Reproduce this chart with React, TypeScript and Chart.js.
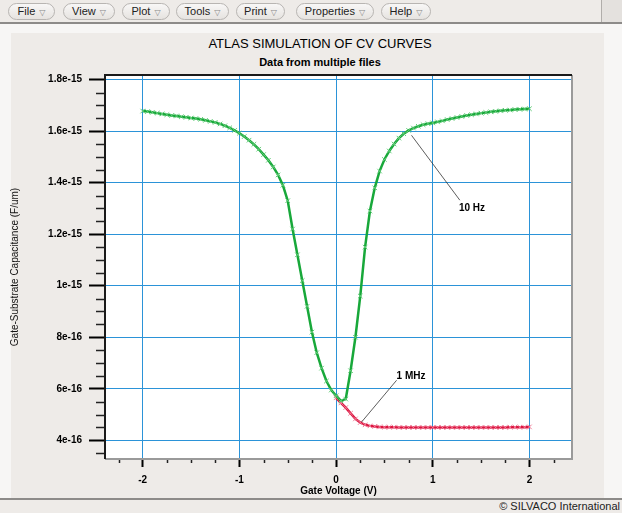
import React, { useEffect, useRef } from "react";
import { Chart, registerables } from "chart.js";

Chart.register(...registerables);

// ---------- data ----------
const chartTitle = "ATLAS SIMULATION OF CV CURVES";
const chartSubtitle = "Data from multiple files";
const xAxisTitle = "Gate Voltage (V)";
const yAxisTitle = "Gate-Substrate Capacitance (F/um)";
const menuItems = ["File", "View", "Plot", "Tools", "Print", "Properties", "Help"];
const copyright = "\u00a9 SILVACO International";

const xTickValues = [-2, -1, 0, 1, 2];
const yTickValues = [4e-16, 6e-16, 8e-16, 1e-15, 1.2e-15, 1.4e-15, 1.6e-15, 1.8e-15];
const yTickLabels = ["4e-16", "6e-16", "8e-16", "1e-15", "1.2e-15", "1.4e-15", "1.6e-15", "1.8e-15"];
const xMinorTicks = [-2.25, -1.75, -1.5, -1.25, -0.75, -0.5, -0.25, 0.25, 0.5, 0.75, 1.25, 1.5, 1.75, 2.25];
const yMinorTicks = [3.5e-16, 4.5e-16, 5e-16, 5.5e-16, 6.5e-16, 7e-16, 7.5e-16, 8.5e-16, 9e-16, 9.5e-16,
  1.05e-15, 1.1e-15, 1.15e-15, 1.25e-15, 1.3e-15, 1.35e-15, 1.45e-15, 1.5e-15, 1.55e-15, 1.65e-15, 1.7e-15, 1.75e-15];

// 10 Hz curve
const vg10Hz = [
  -2.0, -1.95, -1.9, -1.85, -1.8, -1.75, -1.7, -1.65, -1.6, -1.55,
  -1.5, -1.45, -1.4, -1.35, -1.3, -1.25, -1.2, -1.15, -1.1, -1.05,
  -1.0, -0.95, -0.9, -0.85, -0.8, -0.75, -0.7, -0.65, -0.6, -0.55,
  -0.5, -0.45, -0.4, -0.35, -0.3, -0.25, -0.2, -0.15, -0.1, -0.05,
  0.0, 0.05, 0.1, 0.15, 0.2, 0.25, 0.3, 0.35, 0.4, 0.45,
  0.5, 0.55, 0.6, 0.65, 0.7, 0.75, 0.8, 0.85, 0.9, 0.95,
  1.0, 1.05, 1.1, 1.15, 1.2, 1.25, 1.3, 1.35, 1.4, 1.45,
  1.5, 1.55, 1.6, 1.65, 1.7, 1.75, 1.8, 1.85, 1.9, 1.95, 2.0,
];
const cap10Hz = [
  1.678e-15, 1.676e-15, 1.673e-15, 1.670e-15, 1.667e-15, 1.664e-15, 1.661e-15, 1.659e-15, 1.656e-15, 1.654e-15,
  1.651e-15, 1.649e-15, 1.646e-15, 1.642e-15, 1.638e-15, 1.634e-15, 1.628e-15, 1.621e-15, 1.613e-15, 1.603e-15,
  1.592e-15, 1.579e-15, 1.565e-15, 1.549e-15, 1.530e-15, 1.509e-15, 1.487e-15, 1.461e-15, 1.430e-15, 1.390e-15,
  1.330e-15, 1.220e-15, 1.120e-15, 1.020e-15, 0.920e-15, 0.820e-15, 0.740e-15, 0.680e-15, 0.630e-15, 0.595e-15,
  0.573e-15, 0.553e-15, 0.560e-15, 0.670e-15, 0.800e-15, 0.960e-15, 1.150e-15, 1.290e-15, 1.380e-15, 1.445e-15,
  1.490e-15, 1.523e-15, 1.550e-15, 1.573e-15, 1.590e-15, 1.603e-15, 1.612e-15, 1.619e-15, 1.625e-15, 1.629e-15,
  1.632e-15, 1.636e-15, 1.640e-15, 1.645e-15, 1.649e-15, 1.653e-15, 1.657e-15, 1.661e-15, 1.664e-15, 1.667e-15,
  1.670e-15, 1.672e-15, 1.675e-15, 1.677e-15, 1.679e-15, 1.681e-15, 1.682e-15, 1.684e-15, 1.685e-15, 1.686e-15, 1.687e-15,
];

// 1 MHz curve
const vg1MHz = [
  0.0, 0.05, 0.1, 0.15, 0.2, 0.25, 0.3, 0.35, 0.4, 0.45,
  0.5, 0.55, 0.6, 0.65, 0.7, 0.75, 0.8, 0.85, 0.9, 0.95,
  1.0, 1.05, 1.1, 1.15, 1.2, 1.25, 1.3, 1.35, 1.4, 1.45,
  1.5, 1.55, 1.6, 1.65, 1.7, 1.75, 1.8, 1.85, 1.9, 1.95, 2.0,
];
const cap1MHz = [
  0.565e-15, 0.545e-15, 0.527e-15, 0.505e-15, 0.483e-15, 0.469e-15, 0.460e-15, 0.456e-15, 0.454e-15, 0.452e-15,
  0.451e-15, 0.451e-15, 0.451e-15, 0.450e-15, 0.450e-15, 0.450e-15, 0.450e-15, 0.450e-15, 0.450e-15, 0.450e-15,
  0.450e-15, 0.450e-15, 0.450e-15, 0.450e-15, 0.450e-15, 0.450e-15, 0.450e-15, 0.450e-15, 0.450e-15, 0.450e-15,
  0.450e-15, 0.450e-15, 0.450e-15, 0.450e-15, 0.450e-15, 0.450e-15, 0.451e-15, 0.451e-15, 0.451e-15, 0.451e-15, 0.452e-15,
];

// annotations: label, point on curve, end of leader, text anchor
const annotationLabels = ["10 Hz", "1 MHz"];
const annotationFrom = [[0.78, 1.584e-15], [0.264, 0.471e-15]];
const annotationTo = [[1.28, 1.332e-15], [0.626, 0.633e-15]];
const annotationText = [[1.27, 1.300e-15], [0.626, 0.648e-15]];

const FONT = '"Liberation Sans", Arial, Helvetica, sans-serif';
const GRID = "#2b93d8";

const chromePlugin = {
  id: "chrome",
  beforeDraw(chart: any) {
    const { ctx, chartArea: a } = chart;
    ctx.save();
    ctx.fillStyle = "#ffffff";
    ctx.fillRect(a.left, a.top, a.right - a.left, a.bottom - a.top);
    ctx.restore();
  },
  afterDraw(chart: any) {
    const { ctx, chartArea: a, scales } = chart;
    const xs = scales.x;
    const ys = scales.y;
    ctx.save();
    // minor ticks
    ctx.strokeStyle = "#222";
    ctx.lineWidth = 1.5;
    ctx.beginPath();
    yMinorTicks.forEach((v) => {
      const y = Math.round(ys.getPixelForValue(v)) + 0.5;
      ctx.moveTo(a.left - 9, y);
      ctx.lineTo(a.left, y);
    });
    ctx.stroke();
    ctx.beginPath();
    xMinorTicks.forEach((v) => {
      const x = Math.round(xs.getPixelForValue(v)) + 0.5;
      ctx.moveTo(x, a.bottom);
      ctx.lineTo(x, a.bottom + 4);
    });
    ctx.stroke();
    // frame: dark top/left, grey right/bottom
    ctx.lineWidth = 2;
    ctx.strokeStyle = "#9a9a9a";
    ctx.beginPath();
    ctx.moveTo(a.right, a.top);
    ctx.lineTo(a.right, a.bottom);
    ctx.lineTo(a.left, a.bottom);
    ctx.stroke();
    ctx.strokeStyle = "#1a1a1a";
    ctx.beginPath();
    ctx.moveTo(a.left, a.bottom);
    ctx.lineTo(a.left, a.top);
    ctx.lineTo(a.right, a.top);
    ctx.stroke();
    // annotations
    ctx.lineWidth = 0.8;
    ctx.strokeStyle = "#333";
    ctx.fillStyle = "#000";
    ctx.font = `bold 10px ${FONT}`;
    ctx.textBaseline = "middle";
    ctx.textAlign = "left";
    annotationLabels.forEach((label, i) => {
      ctx.beginPath();
      ctx.moveTo(xs.getPixelForValue(annotationFrom[i][0]), ys.getPixelForValue(annotationFrom[i][1]));
      ctx.lineTo(xs.getPixelForValue(annotationTo[i][0]), ys.getPixelForValue(annotationTo[i][1]));
      ctx.stroke();
      ctx.fillText(label, xs.getPixelForValue(annotationText[i][0]), ys.getPixelForValue(annotationText[i][1]));
    });
    ctx.restore();
  },
};

function ChartCanvas() {
  const ref = useRef<HTMLCanvasElement | null>(null);
  useEffect(() => {
    if (!ref.current) return;
    const chart = new Chart(ref.current, {
      type: "scatter",
      data: {
        datasets: [
          {
            label: "10 Hz",
            data: vg10Hz.map((v, i) => ({ x: v, y: cap10Hz[i] })),
            showLine: true,
            borderColor: "#18a83a",
            borderWidth: 2.5,
            pointStyle: "crossRot",
            pointRadius: 3.2,
            pointBorderColor: "#62cc78",
            pointBorderWidth: 1,
            pointBackgroundColor: "#62cc78",
            tension: 0,
          },
          {
            label: "1 MHz",
            data: vg1MHz.map((v, i) => ({ x: v, y: cap1MHz[i] })),
            showLine: true,
            borderColor: "#dc1540",
            borderWidth: 2.5,
            pointStyle: "crossRot",
            pointRadius: 3.2,
            pointBorderColor: "#f07e98",
            pointBorderWidth: 1,
            pointBackgroundColor: "#f07e98",
            tension: 0,
          },
        ],
      },
      options: {
        animation: false,
        responsive: false,
        events: [],
        layout: { padding: { top: 75, right: 50, bottom: 0, left: 0 } },
        plugins: { legend: { display: false }, tooltip: { enabled: false } },
        scales: {
          x: {
            type: "linear",
            min: -2.39,
            max: 2.44,
            afterBuildTicks: (s: any) => {
              s.ticks = xTickValues.map((v) => ({ value: v }));
            },
            afterFit: (s: any) => {
              s.height = 54;
            },
            border: { display: false },
            grid: { color: GRID, lineWidth: 1, tickLength: 8, tickColor: "#000", tickWidth: 2 },
            ticks: {
              color: "#000",
              font: { family: FONT, size: 10, weight: "bold" },
              padding: 7,
              maxRotation: 0,
              autoSkip: false,
              callback: (v: any) => String(v),
            },
            title: {
              display: true,
              text: xAxisTitle,
              color: "#000",
              font: { family: FONT, size: 10, weight: "bold" },
              padding: { top: 0, bottom: 16 },
            },
          },
          y: {
            type: "linear",
            min: 3.274e-16,
            max: 1.818e-15,
            afterBuildTicks: (s: any) => {
              s.ticks = yTickValues.map((v) => ({ value: v }));
            },
            afterFit: (s: any) => {
              s.width = 105;
            },
            border: { display: false },
            grid: { color: GRID, lineWidth: 1, tickLength: 16, tickColor: "#000", tickWidth: 2 },
            ticks: {
              color: "#000",
              font: { family: FONT, size: 10, weight: "bold" },
              padding: 7,
              autoSkip: false,
              callback: (v: any, i: number) => yTickLabels[i],
            },
            title: {
              display: true,
              text: yAxisTitle,
              color: "#111",
              font: { family: FONT, size: 10, weight: "normal" },
              padding: { top: 9, bottom: 0 },
            },
          },
        },
      },
      plugins: [chromePlugin],
    } as any);
    return () => chart.destroy();
  }, []);
  return (
    <canvas
      ref={ref}
      width={622}
      height={513}
      style={{ position: "absolute", left: 0, top: 0, width: 622, height: 513, display: "block" }}
    />
  );
}

const menuLefts = [8, 63, 122, 176, 236, 296, 381];
const menuWidths = [47, 52, 48, 53, 49, 78, 50];

export default function App() {
  return (
    <div
      style={{
        position: "fixed",
        left: 0,
        top: 0,
        width: 622,
        height: 513,
        overflow: "hidden",
        background: "#f7f6f5",
        fontFamily: FONT,
      }}
    >
      {/* menu bar */}
      <div style={{ position: "absolute", left: 0, top: 0, width: 622, height: 23, background: "#eeebe8" }} />
      {menuItems.map((m, i) => (
        <div
          key={m}
          style={{
            position: "absolute",
            left: menuLefts[i],
            top: 3,
            width: menuWidths[i],
            height: 17,
            boxSizing: "border-box",
            border: "1px solid #b8b5b2",
            borderRadius: 9,
            background: "linear-gradient(#f8f7f6, #e6e3e0)",
            fontSize: 11,
            lineHeight: "15px",
            color: "#222",
            textAlign: "center",
            whiteSpace: "nowrap",
          }}
        >
          {m}
          <span style={{ fontSize: 8, color: "#888", marginLeft: 4, fontFamily: "DejaVu Sans" }}>{"\u25BD"}</span>
        </div>
      ))}
      <div style={{ position: "absolute", left: 0, top: 22, width: 622, height: 2, background: "#8d8b89" }} />
      <div
        style={{
          position: "absolute",
          left: 601,
          top: 0,
          width: 21,
          height: 22,
          background: "#e4e1de",
          borderLeft: "1px solid #b0adaa",
        }}
      />
      {/* panel */}
      <div style={{ position: "absolute", left: 11, top: 33, width: 593, height: 465, background: "#eeebe8" }} />
      {/* bottom bar */}
      <div style={{ position: "absolute", left: 0, top: 498, width: 622, height: 2, background: "#8d8b89" }} />
      <div style={{ position: "absolute", left: 0, top: 500, width: 622, height: 13, background: "#eeebe8" }} />
      <div
        style={{
          position: "absolute",
          right: 2,
          top: 500,
          fontSize: 11,
          lineHeight: "13px",
          color: "#222",
          whiteSpace: "nowrap",
        }}
      >
        {copyright}
      </div>
      {/* titles */}
      <div
        style={{
          position: "absolute",
          left: 120,
          width: 400,
          top: 36,
          textAlign: "center",
          fontSize: 13,
          lineHeight: "16px",
          color: "#000",
          whiteSpace: "nowrap",
        }}
      >
        {chartTitle}
      </div>
      <div
        style={{
          position: "absolute",
          left: 120,
          width: 400,
          top: 55,
          textAlign: "center",
          fontSize: 11,
          fontWeight: "bold",
          lineHeight: "14px",
          color: "#000",
          whiteSpace: "nowrap",
        }}
      >
        {chartSubtitle}
      </div>
      <ChartCanvas />
    </div>
  );
}
